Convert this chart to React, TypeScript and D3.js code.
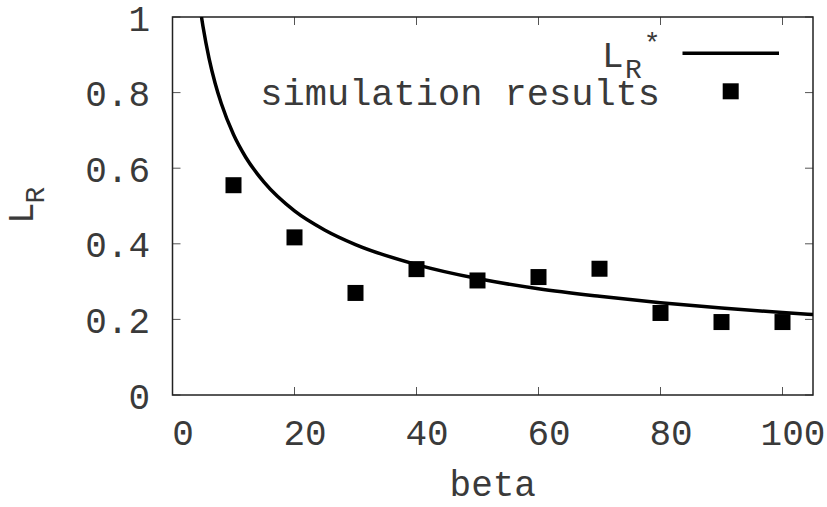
import React from "react";
import * as d3 from "d3";

// Theoretical optimum L_R* sampled along beta
const curveBeta = [4.75, 5, 6, 7, 8, 10, 12, 15, 20, 25, 30, 40, 50, 60, 70, 80, 90, 100, 105];
const curveL = [1.0, 0.975, 0.89, 0.824, 0.771, 0.689, 0.629, 0.563, 0.487, 0.436, 0.398, 0.345, 0.308, 0.281, 0.261, 0.244, 0.23, 0.218, 0.213];

// Simulation results
const simBeta = [10, 20, 30, 40, 50, 60, 70, 80, 90, 100];
const simL = [0.555, 0.417, 0.27, 0.333, 0.303, 0.312, 0.334, 0.217, 0.193, 0.193];

const xTicks = [0, 20, 40, 60, 80, 100];
const yTicks = [0, 0.2, 0.4, 0.6, 0.8, 1];
const yTickLabels = ["0", "0.2", "0.4", "0.6", "0.8", "1"];

const W = 827;
const H = 507;
const left = 172.5;
const right = 813;
const top = 17;
const bottom = 395;

const FONT = "'Liberation Mono', 'DejaVu Sans Mono', monospace";
const TEXT = "#3a3a3a";

export default function App() {
  const x = d3.scaleLinear().domain([0, 105]).range([left, right]);
  const y = d3.scaleLinear().domain([0, 1]).range([bottom, top]);

  const line = d3
    .line<number>()
    .x((_, i) => x(curveBeta[i]))
    .y((d) => y(d))
    .curve(d3.curveMonotoneX);

  const tickLen = 8;
  const sq = 16;

  return (
    <svg
      width={W}
      height={H}
      style={{ position: "absolute", left: 0, top: 0, background: "#fff" }}
      fontFamily={FONT}
    >
      <defs>
        <clipPath id="plotArea">
          <rect x={left} y={top} width={right - left} height={bottom - top} />
        </clipPath>
      </defs>

      {/* ticks, mirrored on all sides */}
      <g stroke="#555" strokeWidth={1}>
        {xTicks.map((t) => (
          <g key={"xt" + t}>
            <line x1={x(t)} x2={x(t)} y1={bottom} y2={bottom - tickLen} />
            <line x1={x(t)} x2={x(t)} y1={top} y2={top + tickLen} />
          </g>
        ))}
        {yTicks.map((t) => (
          <g key={"yt" + t}>
            <line x1={left} x2={left + tickLen} y1={y(t)} y2={y(t)} />
            <line x1={right} x2={right - tickLen} y1={y(t)} y2={y(t)} />
          </g>
        ))}
      </g>

      {/* frame */}
      <rect
        x={left}
        y={top}
        width={right - left}
        height={bottom - top}
        fill="none"
        stroke="#222"
        strokeWidth={1.5}
      />

      {/* tick labels */}
      <g fill={TEXT} fontSize={36}>
        {xTicks.map((t) => (
          <text key={"xl" + t} x={x(t) + 10.5} y={445} textAnchor="middle">
            {t}
          </text>
        ))}
        {yTicks.map((t, i) => (
          <text key={"yl" + t} x={150} y={y(t) + 13.5} textAnchor="end">
            {yTickLabels[i]}
          </text>
        ))}
      </g>

      {/* axis titles */}
      <text x={(left + right) / 2} y={496} textAnchor="middle" fontSize={36} fill={TEXT}>
        beta
      </text>
      <text transform="translate(33.3,224) rotate(-90)" fill={TEXT} fontSize={36}>
        L
        <tspan dx={-1} dy={11} fontSize={28}>
          R
        </tspan>
      </text>

      {/* theoretical curve */}
      <path
        d={line(curveL) ?? ""}
        fill="none"
        stroke="#000"
        strokeWidth={3.5}
        clipPath="url(#plotArea)"
      />

      {/* simulation points */}
      <g fill="#000">
        {simBeta.map((b, i) => (
          <rect key={"p" + b} x={x(b) - sq / 2} y={y(simL[i]) - sq / 2} width={sq} height={sq} />
        ))}
      </g>

      {/* legend */}
      <g fill={TEXT}>
        <text x={602} y={66.7} fontSize={36}>
          L
          <tspan dx={1.4} dy={11.6} fontSize={28}>
            R
          </tspan>
          <tspan dx={2} dy={-26.3} fontSize={28}>
            *
          </tspan>
        </text>
        <text x={660} y={105} fontSize={37} textAnchor="end">
          simulation results
        </text>
      </g>
      <line x1={682.5} x2={779} y1={53.3} y2={53.3} stroke="#000" strokeWidth={3.5} />
      <rect x={730.7 - sq / 2} y={91.3 - sq / 2} width={sq} height={sq} fill="#000" />
    </svg>
  );
}
